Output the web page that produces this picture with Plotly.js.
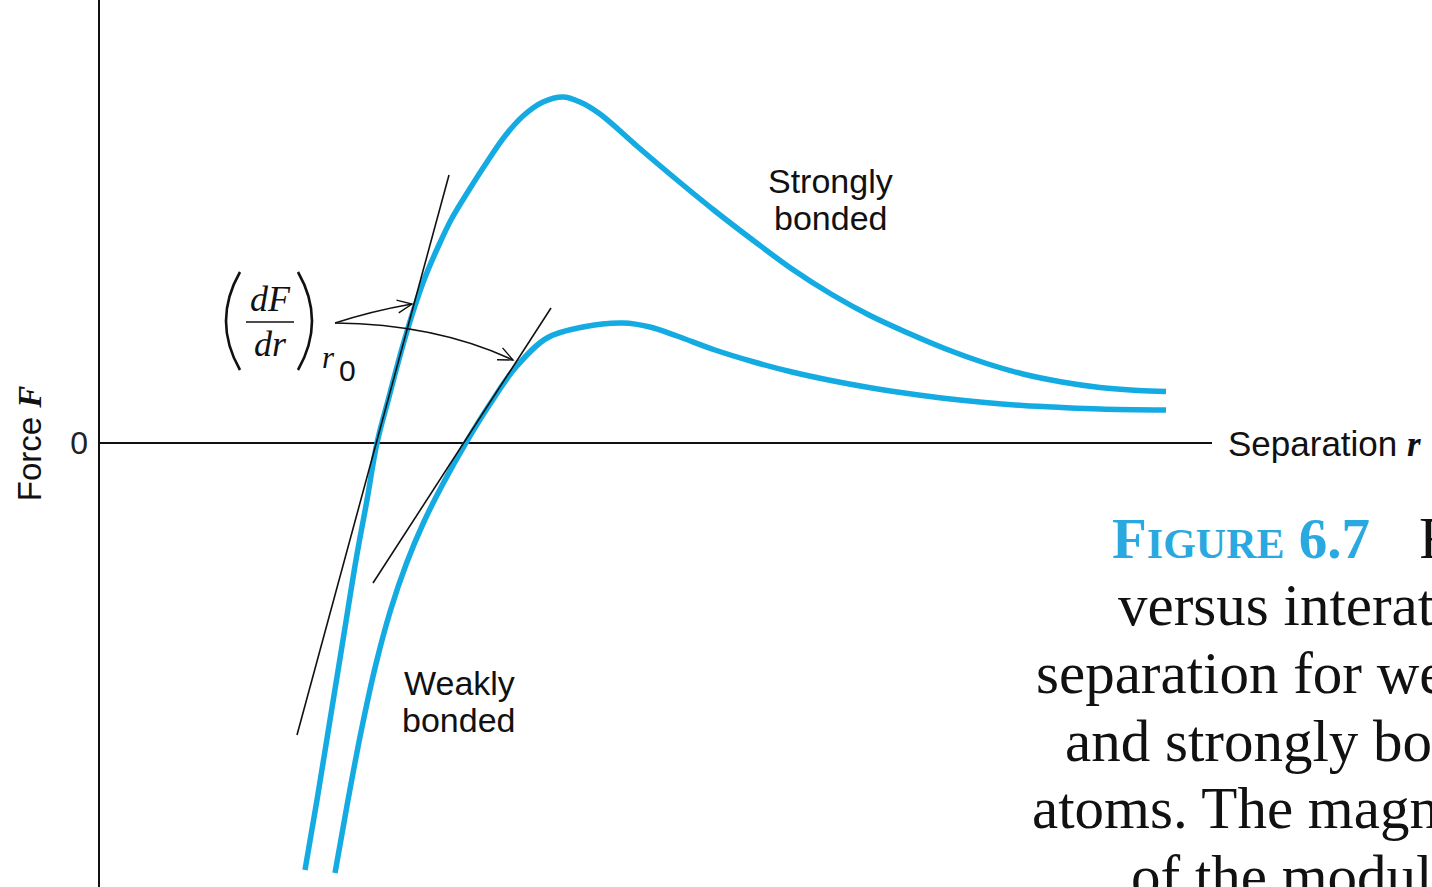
<!DOCTYPE html>
<html>
<head>
<meta charset="utf-8">
<script src="https://cdn.plot.ly/plotly-3.0.1.min.js"></script>
<style>
  html, body { margin: 0; padding: 0; background: #ffffff; overflow: hidden; }
  #chart { width: 1432px; height: 887px; }
</style>
</head>
<body>
<div id="chart"></div>
<script>
// Force F versus separation r (schematic units), one curve per bond type
const strongR = [2.05, 2.17, 2.30, 2.43, 2.56, 2.67, 2.77, 2.89, 3.01, 3.12, 3.24, 3.38, 3.52, 3.69, 3.87, 4.05, 4.23, 4.43, 4.63, 4.80, 5.00, 5.38, 5.77, 6.15, 6.54, 6.92, 7.31, 7.69, 8.08, 8.46, 8.85, 9.23, 9.62, 10.00, 10.38, 10.66];
const strongF = [-4.27, -3.57, -2.77, -1.97, -1.17, -0.57, 0.00, 0.46, 0.91, 1.28, 1.63, 1.96, 2.25, 2.53, 2.81, 3.07, 3.27, 3.41, 3.46, 3.41, 3.29, 2.96, 2.63, 2.32, 2.02, 1.74, 1.49, 1.28, 1.10, 0.94, 0.80, 0.69, 0.61, 0.555, 0.525, 0.515];

const weakR = [2.35, 2.48, 2.614, 2.757, 2.906, 3.066, 3.238, 3.423, 3.658, 3.90, 4.16, 4.47, 4.83, 5.23, 5.50, 5.77, 6.15, 6.54, 6.92, 7.31, 7.69, 8.08, 8.46, 8.85, 9.23, 9.62, 10.00, 10.66];
const weakF = [-4.30, -3.57, -2.87, -2.22, -1.67, -1.20, -0.79, -0.42, 0.00, 0.39, 0.76, 1.05, 1.16, 1.20, 1.16, 1.07, 0.93, 0.81, 0.71, 0.625, 0.555, 0.495, 0.445, 0.405, 0.375, 0.355, 0.34, 0.33];

// Tangent lines at the equilibrium separation r0 (slope dF/dr)
const tangentStrongR = [1.97, 3.49];
const tangentStrongF = [-2.92, 2.68];
const tangentWeakR = [2.73, 4.51];
const tangentWeakF = [-1.40, 1.35];

// Axis extents
const rRange = [0, 11.12];
const fRange = [-4.44, 4.43];

// Labels
const yTickLabels = ['0'];
const curveLabels = ['Strongly', 'bonded', 'Weakly', 'bonded'];
const captionLines = [
  'versus interatomic',
  'separation for weakly',
  'and strongly bonded',
  'atoms. The magnitude',
  'of the modulus of'
];

const BLUE = '#14ABE3';
const INK = '#111111';
const SANS = 'Liberation Sans, Arial, sans-serif';
const SERIF = 'Liberation Serif, Times New Roman, serif';

// layout geometry (pixels)
const W = 1432, H = 887, ML = 100, MR = 220;
const plotW = W - ML - MR;
// pixel -> paper helpers for free-standing text
const PX = px => (px - ML) / plotW;
const PY = py => (H - py) / H;
// pixel -> data helpers for decorations drawn on the axes
const DX = px => rRange[0] + (px - ML) / plotW * (rRange[1] - rRange[0]);
const DY = py => fRange[1] - py / H * (fRange[1] - fRange[0]);

const curveLine = { color: BLUE, width: 5.5, shape: 'spline', smoothing: 1 };
const traces = [
  { x: strongR, y: strongF, mode: 'lines', line: curveLine, hoverinfo: 'skip' },
  { x: weakR, y: weakF, mode: 'lines', line: curveLine, hoverinfo: 'skip' },
  { x: tangentStrongR, y: tangentStrongF, mode: 'lines', line: { color: INK, width: 1.6 }, hoverinfo: 'skip' },
  { x: tangentWeakR, y: tangentWeakF, mode: 'lines', line: { color: INK, width: 1.6 }, hoverinfo: 'skip' }
];

// curved pointer arrows from the dF/dr label to each tangent
function quadPath(p0, c, p2) {
  return `M ${DX(p0[0])},${DY(p0[1])} Q ${DX(c[0])},${DY(c[1])} ${DX(p2[0])},${DY(p2[1])}`;
}
function vHead(tip, from, len, angDeg) {
  // open V arrowhead, computed in pixel space then mapped to data
  const dx = tip[0] - from[0], dy = tip[1] - from[1];
  const n = Math.hypot(dx, dy);
  const ux = dx / n, uy = dy / n;
  const a = angDeg * Math.PI / 180;
  const arm = s => {
    const rx = ux * Math.cos(s * a) - uy * Math.sin(s * a);
    const ry = ux * Math.sin(s * a) + uy * Math.cos(s * a);
    return [tip[0] - len * rx, tip[1] - len * ry];
  };
  const l = arm(1), r = arm(-1);
  return `M ${DX(l[0])},${DY(l[1])} L ${DX(tip[0])},${DY(tip[1])} L ${DX(r[0])},${DY(r[1])}`;
}

const arrowStart = [335, 323];
const arrow1 = { c: [372, 311], end: [412, 304] };
const arrow2 = { c: [436, 324], end: [513, 360] };

const thin = { color: INK, width: 1.4 };
const shapes = [
  { type: 'path', xref: 'x', yref: 'y', path: quadPath(arrowStart, arrow1.c, arrow1.end), line: thin },
  { type: 'path', xref: 'x', yref: 'y', path: vHead(arrow1.end, arrow1.c, 16, 24), line: thin },
  { type: 'path', xref: 'x', yref: 'y', path: quadPath(arrowStart, arrow2.c, arrow2.end), line: thin },
  { type: 'path', xref: 'x', yref: 'y', path: vHead(arrow2.end, arrow2.c, 16, 24), line: thin },
  // large parentheses around the derivative
  { type: 'path', xref: 'x', yref: 'y', path: quadPath([240, 272], [212, 321], [240, 370]), line: { color: INK, width: 2.6 } },
  { type: 'path', xref: 'x', yref: 'y', path: quadPath([298, 272], [326, 321], [298, 370]), line: { color: INK, width: 2.6 } },
  // fraction bar
  { type: 'line', xref: 'x', yref: 'y', x0: DX(246), x1: DX(294), y0: DY(322), y1: DY(322), line: { color: INK, width: 1.6 } }
];

function txt(text, px, py, opts) {
  return Object.assign({
    text: text, xref: 'paper', yref: 'paper', x: PX(px), y: PY(py),
    xanchor: 'center', yanchor: 'middle', showarrow: false,
    font: { family: SANS, size: 34, color: INK }
  }, opts || {});
}
const capFont = { family: SERIF, size: 59, color: INK };

const annotations = [
  txt(curveLabels[0], 830, 181),
  txt(curveLabels[1], 830, 218),
  txt(curveLabels[2], 459, 683),
  txt(curveLabels[3], 458, 720),
  // derivative label
  txt('<i>dF</i>', 270, 299, { font: { family: SERIF, size: 36, color: INK } }),
  txt('<i>dr</i>', 270, 344, { font: { family: SERIF, size: 36, color: INK } }),
  txt('<i>r</i>', 328, 357, { font: { family: SERIF, size: 31, color: INK } }),
  txt('0', 347, 370, { font: { family: SANS, size: 30, color: INK } }),
  // horizontal axis label
  txt('Separation <span style="font-family:Liberation Serif"><b><i>r</i></b></span>', 1226, 444,
      { xanchor: 'left', font: { family: SANS, size: 35, color: INK } }),
  // caption
  txt('<b>F<span style="font-size:42px">IGURE</span> 6.7</b>', 1110, 538,
      { xanchor: 'left', font: { family: SERIF, size: 57, color: '#2AA8E0' } }),
  txt('Force', 1417, 538, { xanchor: 'left', font: capFont }),
  txt(captionLines[0], 1116, 605, { xanchor: 'left', font: capFont }),
  txt(captionLines[1], 1034, 673, { xanchor: 'left', font: capFont }),
  txt(captionLines[2], 1063, 741, { xanchor: 'left', font: capFont }),
  txt(captionLines[3], 1030, 808, { xanchor: 'left', font: capFont }),
  txt(captionLines[4], 1129, 876, { xanchor: 'left', font: capFont })
];

const layout = {
  width: W, height: H,
  margin: { l: ML, r: MR, t: 0, b: 0, pad: 0 },
  paper_bgcolor: '#ffffff', plot_bgcolor: '#ffffff',
  showlegend: false,
  xaxis: {
    range: rRange, showgrid: false, zeroline: false, showline: false,
    showticklabels: false, ticks: '', fixedrange: true
  },
  yaxis: {
    range: fRange, showgrid: false, showline: true, linecolor: INK, linewidth: 2.5,
    zeroline: true, zerolinecolor: INK, zerolinewidth: 2,
    tickmode: 'array', tickvals: [0], ticktext: yTickLabels, ticks: '',
    ticklabelstandoff: 3,
    tickfont: { family: SANS, size: 32, color: '#222222' },
    title: {
      text: 'Force <span style="font-family:Liberation Serif"><b><i>F</i></b></span>',
      font: { family: SANS, size: 33, color: INK }, standoff: 19
    },
    automargin: false, fixedrange: true
  },
  shapes: shapes,
  annotations: annotations
};

Plotly.newPlot('chart', traces, layout, { displayModeBar: false, staticPlot: true });
</script>
</body>
</html>
